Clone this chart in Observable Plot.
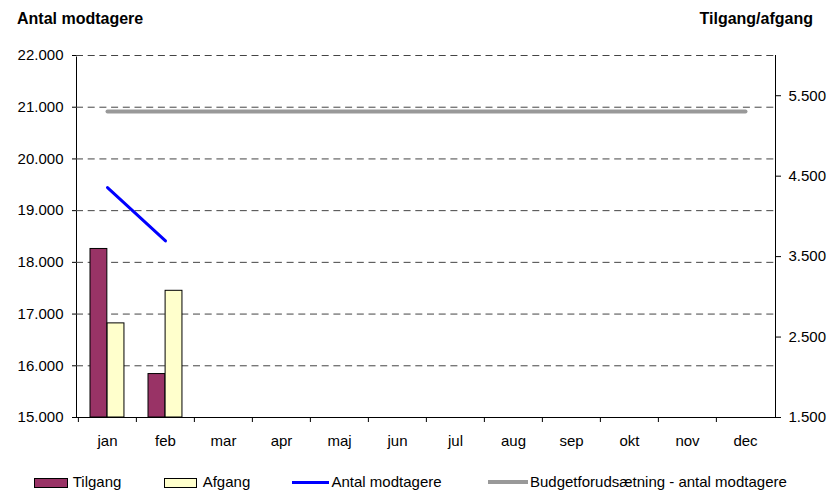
<!DOCTYPE html>
<html>
<head>
<meta charset="utf-8">
<script src="https://cdn.jsdelivr.net/npm/d3@7"></script>
<script src="https://cdn.jsdelivr.net/npm/@observablehq/plot@0.6"></script>
<style>
  html, body { margin: 0; padding: 0; background: #fff; }
  body { width: 830px; height: 490px; font-family: "Liberation Sans", Arial, sans-serif; color: #000; overflow: hidden; }
  #head { position: relative; height: 34px; }
  #head span { position: absolute; top: 10px; font-weight: bold; font-size: 16px; line-height: 18px; }
  #legend { position: relative; height: 40px; font-size: 15px; }
  #legend .item { position: absolute; top: 23px; height: 18px; line-height: 18px; white-space: nowrap; }
  #legend .sw { position: absolute; box-sizing: border-box; }
  svg { display: block; }
</style>
</head>
<body>
<div id="head"><span style="left:17px">Antal modtagere</span><span style="right:17px">Tilgang/afgang</span></div>
<div id="chart"></div>
<div id="legend"></div>
<script>
const months = ["jan", "feb", "mar", "apr", "maj", "jun", "jul", "aug", "sep", "okt", "nov", "dec"];
const tilgangMonths = ["jan", "feb"];
const tilgang = [3595, 2040];
const afgang = [2670, 3075];
const antalMonths = ["jan", "feb"];
const antal = [19445, 18415];
const budget = [20915, 20915, 20915, 20915, 20915, 20915, 20915, 20915, 20915, 20915, 20915, 20915];
const leftTicks = [15000, 16000, 17000, 18000, 19000, 20000, 21000, 22000];
const rightTicks = [1500, 2500, 3500, 4500, 5500];
const leftDomain = [15000, 22000];
const rightDomain = [1500, 6000];

const fmt = d3.formatLocale({decimal: ",", thousands: ".", grouping: [3], currency: ["", ""]}).format(",");
const k = (leftDomain[1] - leftDomain[0]) / (rightDomain[1] - rightDomain[0]);
const toLeft = v => leftDomain[0] + (v - rightDomain[0]) * k;
const toRight = v => rightDomain[0] + (v - leftDomain[0]) / k;

const tilgangData = tilgangMonths.map((m, i) => ({month: m, value: tilgang[i]}));
const afgangData = tilgangMonths.map((m, i) => ({month: m, value: afgang[i]}));
const antalData = antalMonths.map((m, i) => ({month: m, value: antal[i]}));
const budgetData = months.map((m, i) => ({month: m, value: budget[i]}));

const W = 830, ML = 76, MR = 55;
const bw = (W - ML - MR) / months.length;

const chart = Plot.plot({
  width: W,
  height: 416,
  marginTop: 21,
  marginBottom: 33,
  marginLeft: ML,
  marginRight: MR,
  style: {fontFamily: "'Liberation Sans', Arial, sans-serif", fontSize: "15px", color: "#000", background: "#fff"},
  x: {type: "band", domain: months, padding: 0, axis: null},
  y: {domain: leftDomain, axis: null},
  marks: [
    Plot.frame({stroke: "#000"}),
    Plot.ruleY([leftDomain[1]], {stroke: "#fff", strokeWidth: 2}),
    Plot.ruleY(leftTicks.slice(1), {stroke: "#444", strokeDasharray: "7,4.7"}),
    Plot.barY(tilgangData, {x: "month", y1: toLeft(rightDomain[0]), y2: d => toLeft(d.value), fill: "#993366", stroke: "#000", strokeWidth: 1, insetLeft: 12, insetRight: bw - 29.1}),
    Plot.barY(afgangData, {x: "month", y1: toLeft(rightDomain[0]), y2: d => toLeft(d.value), fill: "#ffffcc", stroke: "#000", strokeWidth: 1, insetLeft: 29.1, insetRight: bw - 46.2}),
    Plot.line(budgetData, {x: "month", y: "value", stroke: "#999999", strokeWidth: 4}),
    Plot.line(antalData, {x: "month", y: "value", stroke: "#0000ff", strokeWidth: 3}),
    Plot.axisY(leftTicks, {anchor: "left", tickSize: 4, tickPadding: 9, tickFormat: fmt, fontSize: 15, label: null}),
    Plot.axisY(rightTicks.map(toLeft), {anchor: "right", tickSize: 5, tickPadding: 8, tickFormat: d => fmt(Math.round(toRight(d))), fontSize: 15, label: null}),
    Plot.axisX({tickSize: 5, tickFormat: () => "", dx: -bw / 2, label: null}),
    Plot.axisX({tickSize: 0, tickPadding: 18, fontSize: 15, label: null})
  ]
});
document.getElementById("chart").appendChild(chart);

// legend
const legendItems = [
  {label: "Tilgang", kind: "rect", fill: "#993366", sw: 34, x: 34, tx: 72.7},
  {label: "Afgang", kind: "rect", fill: "#ffffcc", sw: 33, x: 164, tx: 202.7},
  {label: "Antal modtagere", kind: "line", fill: "#0000ff", lw: 3, sw: 37, x: 292, tx: 331.5},
  {label: "Budgetforudsætning - antal modtagere", kind: "line", fill: "#999999", lw: 4, sw: 40, x: 488, tx: 530}
];
const leg = document.getElementById("legend");
for (const it of legendItems) {
  const sw = document.createElement("div");
  sw.className = "sw";
  if (it.kind === "rect") {
    sw.style.cssText = `left:${it.x}px;top:28px;width:${it.sw}px;height:10px;background:${it.fill};border:1px solid #000;`;
  } else {
    sw.style.cssText = `left:${it.x}px;top:${32 - it.lw / 2}px;width:${it.sw}px;height:${it.lw}px;background:${it.fill};`;
  }
  leg.appendChild(sw);
  const t = document.createElement("div");
  t.className = "item";
  t.style.left = it.tx + "px";
  t.textContent = it.label;
  leg.appendChild(t);
}
</script>
</body>
</html>
